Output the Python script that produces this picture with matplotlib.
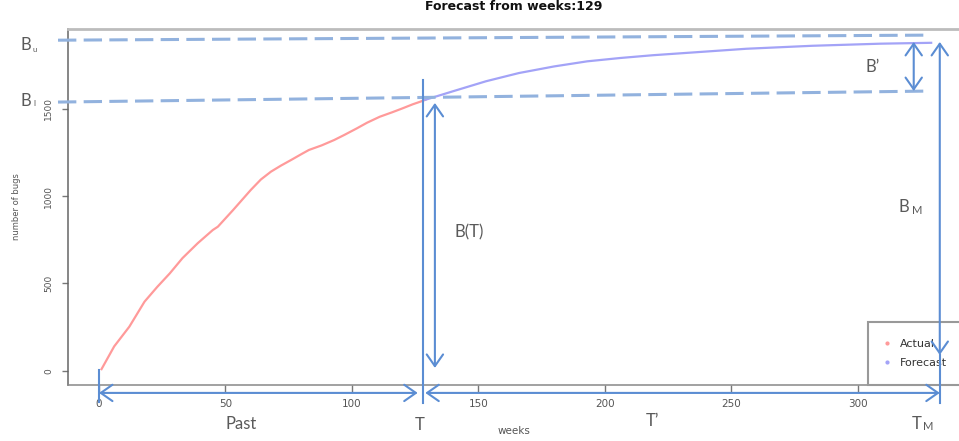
import matplotlib
matplotlib.use("Agg")
import matplotlib.pyplot as plt
from matplotlib.lines import Line2D

# ---- data -------------------------------------------------------------
actual_weeks = [1, 6, 12, 18, 23, 28, 33, 39, 45, 47, 53, 60, 64, 68, 72,
                76, 80, 83, 88, 93, 97, 102, 106, 111, 116, 120, 124, 127, 129]
actual_bugs = [10, 140, 253, 396, 480, 558, 645, 730, 806, 825, 920, 1035,
               1095, 1140, 1175, 1207, 1240, 1264, 1290, 1321, 1350, 1388,
               1420, 1454, 1480, 1502, 1525, 1540, 1551]

forecast_weeks = [129, 140, 153, 166, 180, 193, 206, 219, 232, 256, 282, 309, 329]
forecast_bugs = [1551, 1600, 1657, 1704, 1742, 1771, 1790, 1806, 1819, 1843,
                 1860, 1872, 1877]

x_ticks = [0, 50, 100, 150, 200, 250, 300]
y_ticks = [0, 500, 1000, 1500]

forecast_from = 129

# quantities marked on the chart
t_now = 128          # T
t_max = 332.4        # T_M
b_at_t = 1533        # B(T)
b_top = 1882         # upper end of B_M / B'
b_prime_low = 1601   # lower end of B'
bu_line = ([-16.2, 328.5], [1892, 1921])   # upper bound guide
bl_line = ([-16.2, 328.5], [1538, 1601])   # lower bound guide

W, H = 959, 441
fig = plt.figure(figsize=(W / 100, H / 100), dpi=100)
ax = fig.add_axes([68 / W, (H - 385) / H, (W - 68) / W, (385 - 29) / H])
ax.set_xlim(-12.25, 340)
ax.set_ylim(-80.7, 1956)

# ---- series -----------------------------------------------------------
ax.plot(actual_weeks, actual_bugs, color="#ff9a9a", lw=1.6, zorder=3)
ax.plot(forecast_weeks, forecast_bugs, color="#a3a3f7", lw=1.6, zorder=3)

# ---- axes styling ------------------------------------------------------
ax.spines["right"].set_visible(False)
ax.spines["top"].set_color("#bcbcbc")
ax.spines["top"].set_linewidth(2.0)
ax.spines["left"].set_color("#666666")
ax.spines["bottom"].set_color("#888888")
ax.spines["left"].set_linewidth(1.1)
ax.spines["bottom"].set_linewidth(1.1)

ax.set_xticks(x_ticks)
ax.set_yticks(y_ticks)
ax.tick_params(axis="x", length=5, width=1, color="#777777",
               labelsize=7.5, labelcolor="#555555", pad=5)
ax.tick_params(axis="y", length=4.5, width=1, color="#777777",
               labelsize=6.5, labelcolor="#555555", pad=6)
for lab in ax.get_yticklabels():
    lab.set_rotation(90)
    lab.set_va("center")

ax.set_xlabel("weeks", fontsize=7.5, color="#555555", labelpad=12)
ax.set_ylabel("number of bugs", fontsize=6, color="#555555", labelpad=17)
ax.set_title(f"Forecast from weeks:{forecast_from}", fontsize=9,
             fontweight="bold", color="#111111", pad=14)

# ---- legend ------------------------------------------------------------
handles = [
    Line2D([], [], ls="none", marker="o", ms=2, color="#ff9a9a"),
    Line2D([], [], ls="none", marker="o", ms=2, color="#a3a3f7"),
]
leg = ax.legend(handles, ["Actual", "Forecast"], loc="lower left",
                bbox_to_anchor=((868 - 68) / 891, 0, 0.2, 0.1), mode="expand",
                borderaxespad=0, fontsize=8, borderpad=1.5, labelspacing=0.85,
                handlelength=0.5, handletextpad=0.9, fancybox=False,
                framealpha=1, edgecolor="#999999", labelcolor="#333333")
leg.get_frame().set_linewidth(1.5)

# ---- guide lines and arrows ---------------------------------------------
guide = "#92b2de"
arrow_c = "#5b8dd3"
for xs, ys in (bu_line, bl_line):
    ln, = ax.plot(xs, ys, color=guide, lw=2.2, clip_on=False, zorder=4)
    ln.set_dashes((6, 2.4))

def arrow(x0, y0, x1, y1):
    ax.annotate("", xy=(x1, y1), xytext=(x0, y0), xycoords="data",
                annotation_clip=False, zorder=7,
                arrowprops=dict(arrowstyle="<->,head_length=0.6,head_width=0.42",
                                mutation_scale=14, color=arrow_c, lw=1.5,
                                shrinkA=0, shrinkB=0))

def vline(x, y0, y1):
    ax.plot([x, x], [y0, y1], color=arrow_c, lw=1.5, clip_on=False, zorder=7)

arrow(0, -126, 126, -126)                 # Past
arrow(129, -126, t_max, -126)             # T'
vline(0, 5, -177)
vline(t_now, 1664, -184)                  # T
arrow(132.8, 17, 132.8, b_at_t)           # B(T)
arrow(t_max, 91, t_max, b_top)            # B_M
vline(t_max, 91, -184)                    # T_M
arrow(322.1, b_prime_low, 322.1, b_top)   # B'

# ---- labels ------------------------------------------------------------
lab_kw = dict(color="#5a5a5a", family="Lato", ha="center", va="center")

def ftext(px, py, s, size):
    fig.text(px / W, 1 - py / H, s, fontsize=size, **lab_kw)

ftext(26, 45, "B", 12)
ftext(35, 49, "u", 5.5)
ftext(26, 101, "B", 12)
ftext(34.5, 104, "l", 6)
ftext(873, 67, "B\u2019", 12)
ftext(904, 207, "B", 12)
ftext(917, 211, "M", 8)
ftext(469, 232, "B(T)", 12)
ftext(241, 424, "Past", 12)
ftext(420, 425, "T", 12)
ftext(652, 421, "T\u2019", 12)
ftext(917, 424, "T", 12)
ftext(928, 427, "M", 8)

fig.savefig("out.png", dpi=100)
